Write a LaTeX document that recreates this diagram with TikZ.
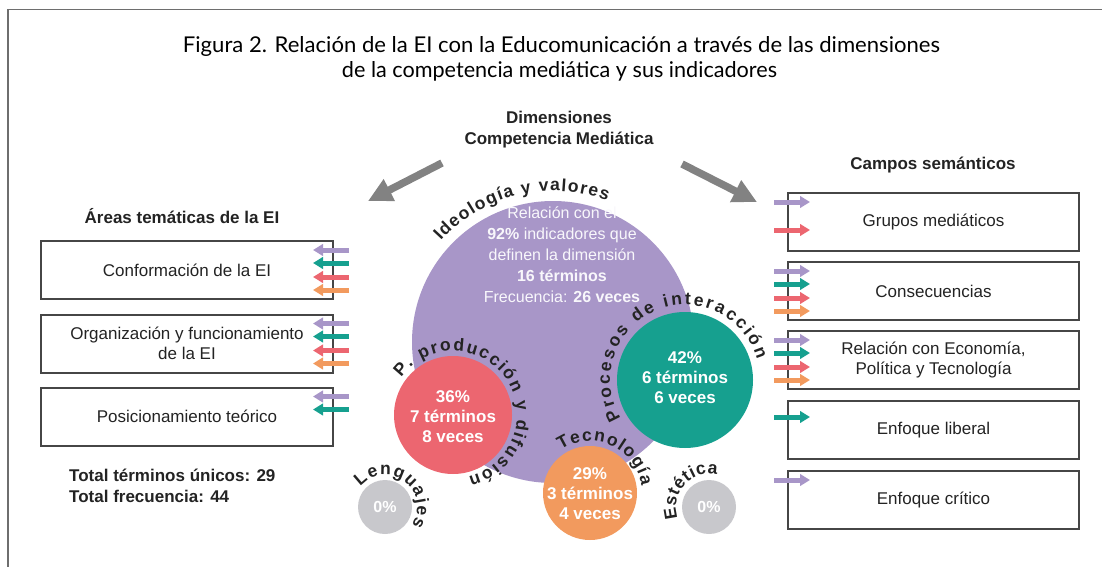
\documentclass[tikz,border=0pt]{standalone}
\usepackage{fontspec}
\setmainfont{Liberation Sans}
\newfontfamily\titlefont{Lato}
\usetikzlibrary{arrows.meta,decorations.text}
\definecolor{cpur}{RGB}{168,150,200}
\definecolor{cteal}{RGB}{22,160,143}
\definecolor{cred}{RGB}{236,102,112}
\definecolor{corg}{RGB}{242,154,94}
\definecolor{cgry}{RGB}{200,200,204}
\definecolor{carrow}{RGB}{130,130,130}
\definecolor{cbox}{RGB}{70,70,70}
\definecolor{ctext}{RGB}{35,35,35}
\definecolor{cframe}{RGB}{110,110,110}
\newcommand\crvfont{\bfseries\fontsize{17.5}{17.5}\selectfont}
\tikzset{
  cbx/.style={draw=cbox, line width=2pt, minimum width=292pt, minimum height=58pt, inner sep=0pt, align=center, font=\fontsize{17}{20}\selectfont, text=ctext},
  smallarr/.style={line width=5pt, -{Triangle[length=10pt,width=11.5pt]}},
  bigarr/.style={draw=carrow, line width=7.5pt, -{Triangle[length=24pt,width=23pt]}},
  crc/.style={circle, inner sep=0pt},
  hd/.style={font=\bfseries\fontsize{17}{21}\selectfont, text=ctext, align=center, inner sep=0pt},
  ctxt/.style={font=\bfseries\fontsize{17}{20}\selectfont, text=white, align=center, inner sep=0pt},
  ptxt/.style={font=\fontsize{16}{21}\selectfont, text=white!92!cpur, align=center, inner sep=0pt},
  crvtext/.style={decorate, decoration={text along path, text align=fit to path, text color=ctext, text={|\crvfont|#1}}},
}
\begin{document}
\begin{tikzpicture}[x=1pt,y=1pt]
\useasboundingbox (0,0) rectangle (1102,-567);
\draw[color=cframe, line width=1.3pt] (8,-567) -- (8,-9.5) -- (1102,-9.5);

% title
\node[anchor=base, inner sep=0pt] (t1) at (561.5,-53) {\resizebox{757pt}{16pt}{\titlefont Figura 2. Relación de la EI con la Educomunicación a través de las dimensiones}};
\node[anchor=base, inner sep=0pt] (t2) at (559.5,-78) {\resizebox{435pt}{16pt}{\titlefont de la competencia mediática y sus indicadores}};

% headings
\node[hd] (dim) at (559,-130) {Dimensiones\\Competencia Mediática};
\node[hd] (areas) at (182,-216) {Áreas temáticas de la EI};
\node[hd] (campos) at (933,-165) {Campos semánticos};
\node[hd, anchor=west, align=left] (tot) at (69,-485.5) {Total términos únicos: 29\\Total frecuencia: 44};

% big gray arrows
\coordinate (gaLs) at (442,-163);
\coordinate (gaLe) at (368,-201);
\coordinate (gaRs) at (682,-164);
\coordinate (gaRe) at (757,-202);
\draw[bigarr] (gaLs) -- (gaLe);
\draw[bigarr] (gaRs) -- (gaRe);

% left boxes
\node[cbx] (L1) at (187,-270) {Conformación de la EI};
\node[cbx] (L2) at (187,-343.5) {Organización y funcionamiento\\de la EI};
\node[cbx] (L3) at (187,-416.5) {Posicionamiento teórico};
\foreach \c/\dy in {cpur/20,cteal/7,cred/-7,corg/-20}{
  \draw[smallarr, color=\c] ([xshift=15pt,yshift=\dy pt]L1.east) -- ++(-36pt,0);
  \draw[smallarr, color=\c] ([xshift=15pt,yshift=\dy pt]L2.east) -- ++(-36pt,0);
}
\foreach \c/\dy in {cpur/20,cteal/7}{
  \draw[smallarr, color=\c] ([xshift=15pt,yshift=\dy pt]L3.east) -- ++(-36pt,0);
}

% right boxes
\node[cbx, minimum width=291pt] (R1) at (933.5,-222) {Grupos mediáticos};
\node[cbx, minimum width=291pt] (R2) at (933.5,-291) {Consecuencias};
\node[cbx, minimum width=291pt] (R3) at (933.5,-360) {Relación con Economía,\\Política y Tecnología};
\node[cbx, minimum width=291pt] (R4) at (933.5,-430) {Enfoque liberal};
\node[cbx, minimum width=291pt] (R5) at (933.5,-500) {Enfoque crítico};
\foreach \c/\dy in {cpur/20,cred/-8}{
  \draw[smallarr, color=\c] ([xshift=-13pt,yshift=\dy pt]R1.west) -- ++(36pt,0);
}
\foreach \c/\dy in {cpur/20,cteal/7,cred/-7,corg/-20}{
  \draw[smallarr, color=\c] ([xshift=-13pt,yshift=\dy pt]R2.west) -- ++(36pt,0);
  \draw[smallarr, color=\c] ([xshift=-13pt,yshift=\dy pt]R3.west) -- ++(36pt,0);
}
\draw[smallarr, color=cteal] ([xshift=-13pt,yshift=13pt]R4.west) -- ++(36pt,0);
\draw[smallarr, color=cpur] ([xshift=-13pt,yshift=20pt]R5.west) -- ++(36pt,0);

% circles
\node[crc, fill=cpur, minimum size=282pt] (P) at (553,-342) {};
\node[crc, fill=cred, minimum size=118pt] (R) at (453,-415) {};
\node[crc, fill=cteal, minimum size=136pt] (T) at (685,-380) {};
\node[crc, fill=corg, minimum size=94pt] (O) at (590,-493) {};
\node[crc, fill=cgry, minimum size=54pt] (GL) at (385,-507) {};
\node[crc, fill=cgry, minimum size=54pt] (GR) at (709,-507) {};

\node[ptxt] (Ptxt) at (562,-255) {Relación con el\\\textbf{92\%} indicadores que\\definen la dimensión\\\textbf{16 términos}\\Frecuencia: \textbf{26 veces}};
\node[ctxt] (Rtxt) at (453,-417) {36\%\\7 términos\\8 veces};
\node[ctxt] (Ttxt) at (685,-378) {42\%\\6 términos\\6 veces};
\node[ctxt] (Otxt) at (590,-494) {29\%\\3 términos\\4 veces};
\node[ctxt, font=\bfseries\fontsize{16}{20}\selectfont] (GLtxt) at (GL) {0\%};
\node[ctxt, font=\bfseries\fontsize{16}{20}\selectfont] (GRtxt) at (GR) {0\%};

% curved labels
\path[crvtext={Ideología y valores}] ([shift={(138:151)}]P.center) arc[start angle=138, end angle=69, radius=151];
\path[crvtext={P. producción y difusión}] ([shift={(144:64)}]R.center) arc[start angle=144, end angle=-76, radius=64];
\path[crvtext={Procesos de interacción}] ([shift={(211:75)}]T.center) arc[start angle=211, end angle=16, radius=75];
\path[crvtext={Tecnología}] ([shift={(124:52)}]O.center) arc[start angle=124, end angle=8, radius=52];
\path[crvtext={Lenguajes}] ([shift={(140:32)}]GL.center) arc[start angle=140, end angle=-34, radius=32];
\path[crvtext={Estética}] ([shift={(200:33)}]GR.center) arc[start angle=200, end angle=76, radius=33];
\end{tikzpicture}
\end{document}
